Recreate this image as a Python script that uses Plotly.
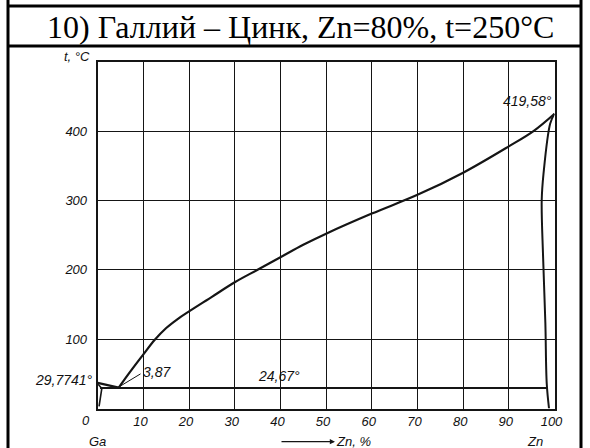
import plotly.graph_objects as go

# ---- data ----
title_text = "10) Галлий – Цинк, Zn=80%, t=250°C"

liquidus_zn = [4.6, 7, 10, 12.5, 15, 17.5, 20, 25, 30, 35, 40, 45, 50, 60, 70, 80, 90, 95.4, 100]
liquidus_t = [30, 52, 78, 99, 116, 129, 140, 161, 182, 200, 218, 236, 252, 281, 308, 340, 378, 400, 425]

ga_liq_zn = [0, 4.6]
ga_liq_t = [37, 30]

ga_solid_zn = [0.1, 0.9, 0.3]
ga_solid_t = [35, 29, 3]

solvus_zn = [100, 99.06, 97.6, 97.2, 97.5, 98.0, 98.3, 98.8]
solvus_t = [425, 411, 339, 300, 219, 123, 36, 0]

eutectic_zn = [0.5, 98.3]
eutectic_t = [29.5, 29.5]

x_ticks = [0, 10, 20, 30, 40, 50, 60, 70, 80, 90, 100]
x_tick_text = ["", "10", "20", "30", "40", "50", "60", "70", "80", "90", "100"]
y_ticks = [100, 200, 300, 400]
y_tick_text = ["100", "200", "300", "400"]

W, H = 590, 448
LINE = "#151515"
lab_font = dict(family="Liberation Sans", size=14, color="#111111", style="italic")
tick_font = dict(family="Liberation Sans", size=13, color="#111111", style="italic")

fig = go.Figure()
for xs, ys, w in [(liquidus_zn, liquidus_t, 2.2), (ga_liq_zn, ga_liq_t, 2.2),
                  (ga_solid_zn, ga_solid_t, 1.6), (solvus_zn, solvus_t, 2.0),
                  (eutectic_zn, eutectic_t, 2.0)]:
    fig.add_trace(go.Scatter(x=xs, y=ys, mode="lines",
                             line=dict(color=LINE, width=w, shape="spline" if len(xs) > 3 else "linear"),
                             hoverinfo="skip", showlegend=False))

x0, x1 = 97.7, 554.5
yb, yt = 408.5, 61.7
fig.update_layout(
    width=W, height=H, margin=dict(l=0, r=0, t=0, b=0, autoexpand=False),
    paper_bgcolor="white", plot_bgcolor="white", showlegend=False,
    xaxis=dict(domain=[x0 / W, x1 / W], range=[0, 100], tickvals=x_ticks, ticktext=x_tick_text,
               showgrid=True, gridcolor=LINE, gridwidth=1.3, zeroline=False, automargin=False,
               showline=True, linecolor=LINE, linewidth=2, mirror=True,
               ticks="", tickfont=tick_font, ticklabelshift=-3, ticklabelstandoff=0),
    yaxis=dict(domain=[(H - yb) / H, (H - yt) / H], range=[0, 500], tickvals=y_ticks, ticktext=y_tick_text,
               showgrid=True, gridcolor=LINE, gridwidth=1.3, zeroline=False, automargin=False,
               showline=True, linecolor=LINE, linewidth=2, mirror=True,
               ticks="", tickfont=tick_font, ticklabelstandoff=6),
)

def px(x, y):
    return x / W, 1 - y / H

annots = [
    ("t, °C", 77, 56, 13),
    ("0", 86, 420, 13),
    ("Ga", 97, 441, 13),
    ("Zn", 535, 441, 13),
    ("Zn, %", 353, 441, 13),
    ("419,58°", 527, 101, 14),
    ("24,67°", 279, 376, 14),
    ("29,7741°", 64, 380, 14),
    ("3,87", 157, 372, 14),
]
for txt, ax_, ay_, fs in annots:
    xx, yy = px(ax_, ay_)
    fig.add_annotation(text=txt, x=xx, y=yy, xref="paper", yref="paper", showarrow=False,
                       font=dict(lab_font, size=fs), xanchor="center", yanchor="middle")

# arrow before "Zn, %"
hx, hy = px(335, 441.7)
fig.add_annotation(x=hx, y=hy, xref="paper", yref="paper", ax=-55, ay=0,
                   showarrow=True, arrowhead=2, arrowsize=0.8, arrowwidth=1.3, arrowcolor=LINE, text="")
# leader line for 3,87
lx, ly = px(119.3, 386.7)
fig.add_annotation(x=lx, y=ly, xref="paper", yref="paper", ax=22.7, ay=-13.7,
                   showarrow=True, arrowhead=0, arrowwidth=1, arrowcolor=LINE, text="")

# table frame
shapes = [
    dict(type="line", x0=8 / W, x1=8 / W, y0=0, y1=1, line=dict(color="black", width=3)),
    dict(type="line", x0=581 / W, x1=581 / W, y0=0, y1=1, line=dict(color="black", width=3)),
    dict(type="line", x0=8 / W, x1=581 / W, y0=1 - 6 / H, y1=1 - 6 / H, line=dict(color="black", width=3)),
    dict(type="line", x0=8 / W, x1=581 / W, y0=1 - 46 / H, y1=1 - 46 / H, line=dict(color="black", width=3)),
]
for s in shapes:
    fig.add_shape(xref="paper", yref="paper", **s)

fig.add_annotation(text=title_text, x=301 / W, y=1 - 27 / H, xref="paper", yref="paper",
                   showarrow=False, xanchor="center", yanchor="middle",
                   font=dict(family="Liberation Serif", size=32, color="black"))

fig.write_html("out.html", config={"displayModeBar": False},
               post_script="document.body.style.margin='0px';")
